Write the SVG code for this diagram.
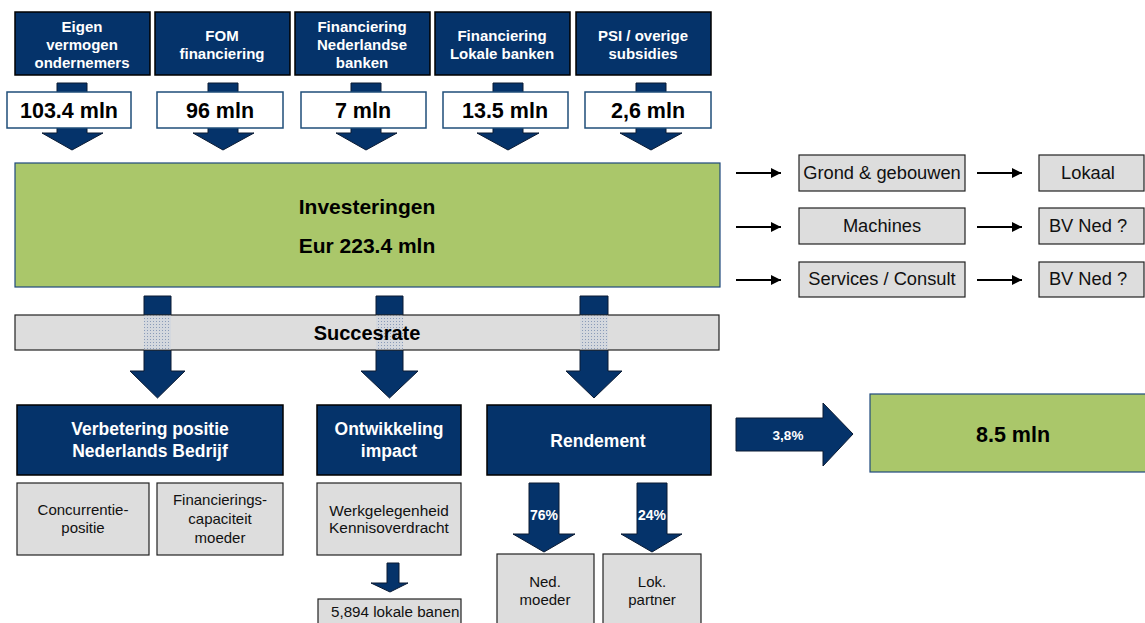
<svg xmlns="http://www.w3.org/2000/svg" width="1145" height="623" viewBox="0 0 1145 623">
<defs>
<style>
.hdr{fill:#05336A;stroke:#000;stroke-width:1.5}
.val{fill:#fff;stroke:#1F4E79;stroke-width:1.5}
.arr{fill:#05336A;stroke:#0a1a33;stroke-width:1}
.grey{fill:#DDDDDD;stroke:#222;stroke-width:1.2}
.green{fill:#AAC76A;stroke:#1F497D;stroke-width:1.2}
.wb{font-family:"Liberation Sans",Arial,sans-serif;font-weight:bold;fill:#fff;text-anchor:middle}
.bb{font-family:"Liberation Sans",Arial,sans-serif;font-weight:bold;fill:#000;text-anchor:middle}
.n{font-family:"Liberation Sans",Arial,sans-serif;fill:#111;text-anchor:middle}
.ln{stroke:#000;stroke-width:2;fill:none}
</style>
<marker id="ah" viewBox="0 0 10 10" refX="10" refY="5" markerWidth="12" markerHeight="10" markerUnits="userSpaceOnUse" orient="auto">
<path d="M0,0 L10,5 L0,10 z" fill="#000"/>
</marker>
<pattern id="dots" width="3" height="3" patternUnits="userSpaceOnUse">
<rect width="3" height="3" fill="#D4D8DE"/>
<rect x="0" y="0" width="1" height="1" fill="#8A9BB8"/>
</pattern>
<clipPath id="clipBanen"><rect x="318" y="599" width="143" height="30"/></clipPath>
</defs>

<g id="connectors">
<polygon class="arr" points="57,83 87,83 87,133 103,133 72,150 42,133 57,133"/>
<polygon class="arr" points="208,83 238,83 238,133 254,133 223,150 193,133 208,133"/>
<polygon class="arr" points="351,83 381,83 381,133 397,133 366,150 336,133 351,133"/>
<polygon class="arr" points="493,83 523,83 523,133 539,133 508,150 477,133 493,133"/>
<polygon class="arr" points="636,83 666,83 666,133 682,133 651,150 620,133 636,133"/>

<polygon class="arr" points="144,296 171,296 171,371 185,371 157.5,398 130,371 144,371"/>
<polygon class="arr" points="376,296 403,296 403,371 418,371 389.5,398 361,371 376,371"/>
<polygon class="arr" points="580,296 608,296 608,371 622,371 594,398 566,371 580,371"/>

<polygon class="arr" points="387,563 399,563 399,583 408,583 390,592 371,583 387,583"/>

<polygon class="arr" points="529,483 559,483 559,534 575,534 544,552 513,534 529,534"/>
<polygon class="arr" points="637,483 667,483 667,534 682,534 652,552 621,534 637,534"/>

<polygon class="arr" points="736,418 823,418 823,403 853,434 823,466 823,451 736,451"/>

<line class="ln" x1="736" y1="173" x2="781" y2="173" marker-end="url(#ah)"/>
<line class="ln" x1="736" y1="227" x2="781" y2="227" marker-end="url(#ah)"/>
<line class="ln" x1="736" y1="280" x2="781" y2="280" marker-end="url(#ah)"/>
<line class="ln" x1="977" y1="173" x2="1022" y2="173" marker-end="url(#ah)"/>
<line class="ln" x1="977" y1="227" x2="1022" y2="227" marker-end="url(#ah)"/>
<line class="ln" x1="977" y1="280" x2="1022" y2="280" marker-end="url(#ah)"/>
</g>

<g id="hdr1"><rect class="hdr" x="15" y="12" width="135" height="63"/>
<text class="wb" font-size="15" x="82" y="32">Eigen</text>
<text class="wb" font-size="15" x="82" y="50">vermogen</text>
<text class="wb" font-size="15" x="82" y="68">ondernemers</text></g>
<g id="hdr2"><rect class="hdr" x="155" y="12" width="135" height="63"/>
<text class="wb" font-size="15" x="222" y="41">FOM</text>
<text class="wb" font-size="15" x="222" y="59">financiering</text></g>
<g id="hdr3"><rect class="hdr" x="295" y="12" width="135" height="63"/>
<text class="wb" font-size="15" x="362" y="32">Financiering</text>
<text class="wb" font-size="15" x="362" y="50">Nederlandse</text>
<text class="wb" font-size="15" x="362" y="68">banken</text></g>
<g id="hdr4"><rect class="hdr" x="435" y="12" width="135" height="63"/>
<text class="wb" font-size="15" x="502" y="41">Financiering</text>
<text class="wb" font-size="15" x="502" y="59">Lokale banken</text></g>
<g id="hdr5"><rect class="hdr" x="576" y="12" width="135" height="63"/>
<text class="wb" font-size="15" x="643" y="41">PSI / overige</text>
<text class="wb" font-size="15" x="643" y="59">subsidies</text></g>

<g id="val1"><rect class="val" x="7" y="92" width="124" height="36"/><text class="bb" font-size="21.5" x="69" y="118">103.4 mln</text></g>
<g id="val2"><rect class="val" x="157" y="92" width="126" height="36"/><text class="bb" font-size="21.5" x="220" y="118">96 mln</text></g>
<g id="val3"><rect class="val" x="301" y="92" width="125" height="36"/><text class="bb" font-size="21.5" x="363" y="118">7 mln</text></g>
<g id="val4"><rect class="val" x="443" y="92" width="125" height="36"/><text class="bb" font-size="21.5" x="505" y="118">13.5 mln</text></g>
<g id="val5"><rect class="val" x="585" y="92" width="126" height="36"/><text class="bb" font-size="21.5" x="648" y="118">2,6 mln</text></g>

<g id="investeringen"><rect class="green" x="15" y="163" width="705" height="124"/>
<text class="bb" font-size="21" x="367" y="214">Investeringen</text>
<text class="bb" font-size="21" x="367" y="253">Eur 223.4 mln</text></g>

<g id="succesrate"><rect class="grey" x="15" y="315" width="704" height="35" stroke="#333"/>
<rect x="144" y="315.6" width="27" height="33.8" fill="url(#dots)"/>
<rect x="376" y="315.6" width="27" height="33.8" fill="url(#dots)"/>
<rect x="580" y="315.6" width="28" height="33.8" fill="url(#dots)"/>
<text class="bb" font-size="20" x="367" y="340">Succesrate</text></g>

<g id="grond"><rect class="grey" x="799" y="155" width="166" height="36"/><text class="n" font-size="18.3" x="882" y="179">Grond &amp; gebouwen</text></g>
<g id="machines"><rect class="grey" x="799" y="208" width="166" height="36"/><text class="n" font-size="18.3" x="882" y="232">Machines</text></g>
<g id="services"><rect class="grey" x="799" y="262" width="166" height="35"/><text class="n" font-size="18.3" x="882" y="285">Services / Consult</text></g>
<g id="lokaal"><rect class="grey" x="1039" y="155" width="105" height="36"/><text class="n" font-size="18.3" x="1088" y="179">Lokaal</text></g>
<g id="bvned1"><rect class="grey" x="1039" y="208" width="105" height="36"/><text class="n" font-size="18.3" x="1088" y="232">BV Ned ?</text></g>
<g id="bvned2"><rect class="grey" x="1039" y="262" width="105" height="35"/><text class="n" font-size="18.3" x="1088" y="285">BV Ned ?</text></g>

<g id="verbetering"><rect class="hdr" x="17" y="405" width="266" height="70"/>
<text class="wb" font-size="17.5" x="150" y="435">Verbetering positie</text>
<text class="wb" font-size="17.5" x="150" y="457">Nederlands Bedrijf</text></g>
<g id="ontwikkeling"><rect class="hdr" x="317" y="405" width="144" height="70"/>
<text class="wb" font-size="17.5" x="389" y="435">Ontwikkeling</text>
<text class="wb" font-size="17.5" x="389" y="457">impact</text></g>
<g id="rendement"><rect class="hdr" x="487" y="405" width="224" height="70"/>
<text class="wb" font-size="17.5" x="598" y="447">Rendement</text></g>

<g id="concurrentie"><rect class="grey" x="17" y="483" width="132" height="72"/>
<text class="n" font-size="15" x="83" y="515">Concurrentie-</text>
<text class="n" font-size="15" x="83" y="533">positie</text></g>
<g id="financierings"><rect class="grey" x="157" y="483" width="126" height="72"/>
<text class="n" font-size="15" x="220" y="505">Financierings-</text>
<text class="n" font-size="15" x="220" y="524">capaciteit</text>
<text class="n" font-size="15" x="220" y="543">moeder</text></g>
<g id="werkgelegenheid"><rect class="grey" x="317" y="483" width="144" height="72"/>
<text class="n" font-size="15.4" x="389" y="516">Werkgelegenheid</text>
<text class="n" font-size="15.4" x="389" y="533">Kennisoverdracht</text></g>
<g id="banen"><rect class="grey" x="318" y="599" width="143" height="30"/>
<text class="n" font-size="15.2" x="331" y="617" clip-path="url(#clipBanen)" style="text-anchor:start">5,894 lokale banen</text></g>

<g id="nedmoeder"><rect class="grey" x="497" y="554" width="97" height="76"/>
<text class="n" font-size="15" x="545" y="587">Ned.</text>
<text class="n" font-size="15" x="545" y="605">moeder</text></g>
<g id="lokpartner"><rect class="grey" x="603" y="554" width="98" height="76"/>
<text class="n" font-size="15" x="652" y="587">Lok.</text>
<text class="n" font-size="15" x="652" y="605">partner</text></g>

<g id="labels">
<text class="wb" font-size="14" x="544" y="520">76%</text>
<text class="wb" font-size="14" x="652" y="520">24%</text>
<text class="wb" font-size="13.5" x="788" y="440">3,8%</text>
</g>

<g id="result"><rect class="green" x="870" y="394" width="280" height="78"/>
<text class="bb" font-size="21.5" x="1013" y="442">8.5 mln</text></g>
</svg>
